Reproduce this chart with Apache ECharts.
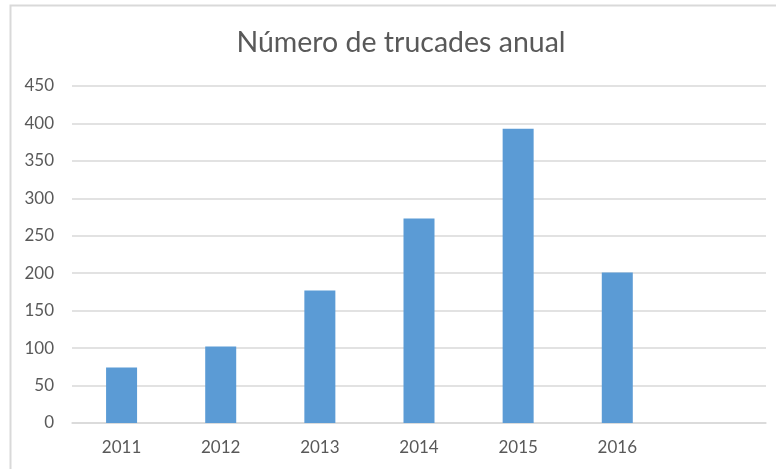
<!DOCTYPE html>
<html>
<head>
<meta charset="utf-8">
<script src="https://cdn.jsdelivr.net/npm/echarts@6/dist/echarts.min.js"></script>
<style>
  html, body { margin: 0; padding: 0; background: #fff; }
  #chart { width: 776px; height: 469px; }
</style>
</head>
<body>
<div id="chart"></div>
<script>
// anys (l'últim buit, com a l'original)
var categories = ['2011', '2012', '2013', '2014', '2015', '2016', ''];
var trucades = [74, 102, 177, 273, 393, 201, null];
var yTicks = { min: 0, max: 450, interval: 50 };

var chart = echarts.init(document.getElementById('chart'));
chart.setOption({
  animation: false,
  backgroundColor: '#fff',
  title: {
    text: 'Número de trucades anual',
    left: 396,
    top: 23,
    textAlign: 'center',
    textStyle: {
      fontFamily: 'Lato',
      fontWeight: 'normal',
      fontSize: 28.5,
      color: '#595959'
    }
  },
  //marc del gràfic
  graphic: [{
    type: 'rect',
    shape: { x: 10.5, y: 5.5, width: 800, height: 500 },
    style: { fill: 'none', stroke: '#d9d9d9', lineWidth: 2 },
    silent: true
  }],
  grid: { left: 72, right: 10, top: 86, bottom: 46, containLabel: false },
  xAxis: {
    type: 'category',
    data: categories,
    axisLine: { show: true, lineStyle: { color: '#d9d9d9', width: 1.5 } },
    axisTick: { show: false },
    axisLabel: { color: '#595959', fontFamily: 'Lato', fontSize: 17, margin: 16 }
  },
  yAxis: {
    type: 'value',
    min: yTicks.min,
    max: yTicks.max,
    interval: yTicks.interval,
    axisLine: { show: false },
    axisTick: { show: false },
    axisLabel: { color: '#595959', fontFamily: 'Lato', fontSize: 17, margin: 18 },
    splitLine: { lineStyle: { color: '#d9d9d9', width: 1.5 } }
  },
  series: [{
    type: 'bar',
    data: trucades,
    barWidth: 31,
    itemStyle: { color: '#5b9bd5' }
  }]
});
</script>
</body>
</html>
